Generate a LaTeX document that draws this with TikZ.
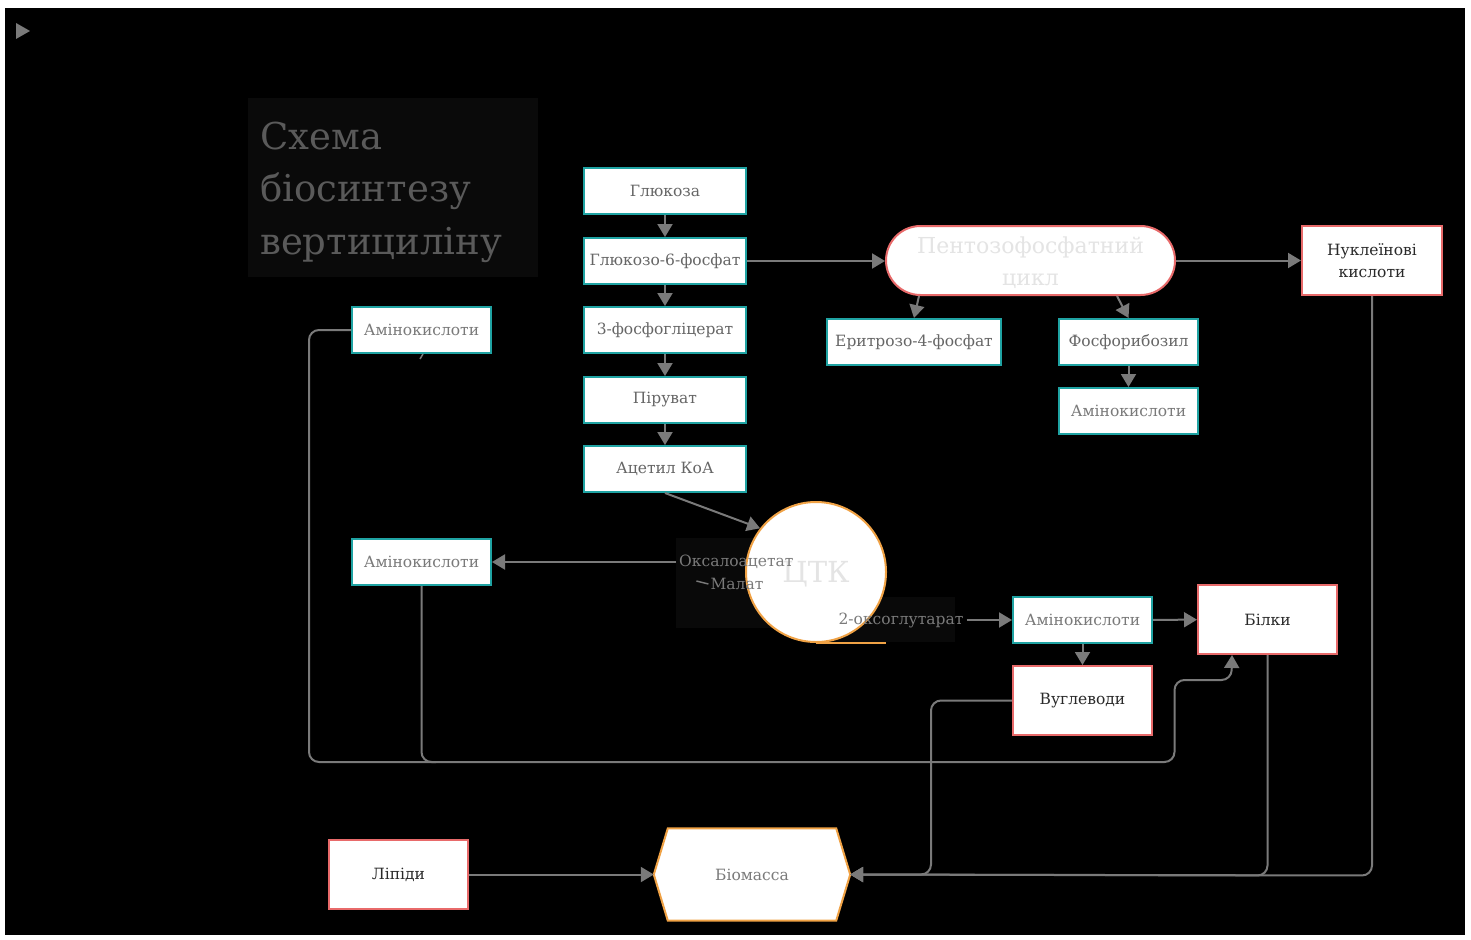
\documentclass[tikz,border=0pt]{standalone}
\usepackage{fontspec}
\setmainfont{DejaVu Serif}
\usetikzlibrary{arrows.meta,shapes.geometric}
\definecolor{tealb}{HTML}{1FA3A3}
\definecolor{redb}{HTML}{E86A6A}
\definecolor{orangeb}{HTML}{F0A245}
\definecolor{conngray}{HTML}{7A7A7A}
\definecolor{txtgray}{HTML}{666666}
\definecolor{txtdark}{HTML}{2A2A2A}
\definecolor{txtlight}{HTML}{E4E4E4}
\definecolor{titlegray}{HTML}{5A5A5A}
\definecolor{titlebg}{HTML}{0A0A0A}
\definecolor{labelbg}{HTML}{090909}
\tikzset{
  basebox/.style={draw, line width=2pt, fill=white, inner sep=0pt, font=\fontsize{15.5}{22}\selectfont, align=center},
  tealbox/.style={basebox, draw=tealb, text=txtgray, minimum width=#1, minimum height=46pt},
  redbox/.style={basebox, draw=redb, text=txtdark, minimum width=139pt, minimum height=69pt},
  conn/.style={draw=conngray, line width=2pt, -{Triangle[length=13pt,width=15pt]}},
  plainconn/.style={draw=conngray, line width=2pt},
  lbl/.style={font=\fontsize{15.5}{19}\selectfont, text=conngray, inner sep=3pt},
}
\begin{document}
\begin{tikzpicture}[x=1pt,y=-1pt]
\useasboundingbox (0,0) rectangle (1471,939);
\fill[white] (0,0) rectangle (1471,939);
\fill[black] (5,8) rectangle (1465,935);
% play marker
\fill[conngray] (16,23) -- (30,31) -- (16,39) -- cycle;
% title
\fill[titlebg] (248,98) rectangle (538,277);
\node[anchor=west, text=titlegray, font=\fontsize{37}{52.5}\selectfont, align=left, inner sep=0pt] (title) at (260,192) {Схема\\біосинтезу\\вертициліну};

% glycolysis chain
\node[tealbox=162pt] (g1) at (665,191) {Глюкоза};
\node[tealbox=162pt] (g2) at (665,261) {Глюкозо-6-фосфат};
\node[tealbox=162pt] (g3) at (665,330) {3-фосфогліцерат};
\node[tealbox=162pt] (g4) at (665,400) {Піруват};
\node[tealbox=162pt] (g5) at (665,469) {Ацетил КоА};

% pentose phosphate
\node[basebox, draw=redb, minimum width=289pt, minimum height=69pt, rounded corners=34.5pt] (ppp) at (1030.5,260.5) {};
\node[text=txtlight, font=\fontsize{22}{32}\selectfont, align=center, inner sep=0pt] (ppptext) at ([yshift=-2pt]ppp.center) {Пентозофосфатний\\цикл};
\node[redbox, minimum width=140pt] (nuk) at (1372,260.5) {Нуклеїнові\\кислоти};
\node[tealbox=174pt, text=txtgray] (ery) at (914,342) {Еритрозо-4-фосфат};
\node[tealbox=139pt] (fos) at (1128.5,342) {Фосфорибозил};
\node[tealbox=139pt, text=conngray] (am1) at (1128.5,411) {Амінокислоти};

% left amino acids
\node[tealbox=139pt, text=conngray] (amL1) at (421.5,330) {Амінокислоти};
\node[tealbox=139pt, text=conngray] (amL2) at (421.5,562) {Амінокислоти};

% TCA cycle
\fill[labelbg] (676,538) rectangle (790,628);
\fill[labelbg] (830,597) rectangle (955,642);
\node[circle, draw=orangeb, line width=2pt, fill=white, minimum size=140pt, inner sep=0pt] (ctk) at (816,572) {};
\node[text=txtlight, font=\fontsize{29}{34}\selectfont, inner sep=0pt] (ctktext) at ([yshift=-2pt]ctk.center) {ЦТК};
\draw[orangeb, line width=2pt] (ctk.south) -- ++(70,0);
\node[lbl, anchor=west] (oxa) at (676,562) {Оксалоацетат};
\node[lbl] (mal) at (737,584) {Малат};
\draw[plainconn, line width=1.5pt] ([xshift=-11pt,yshift=3pt]mal.west) -- ([xshift=1pt]mal.west);
\node[lbl] (ogl) at (901,620) {2-оксоглутарат};

% lower right
\node[tealbox=139pt, text=conngray] (amB) at (1082.5,620) {Амінокислоти};
\node[redbox, minimum height=69pt] (bil) at (1267.5,619.5) {Білки};
\node[redbox] (vug) at (1082.5,700.5) {Вуглеводи};
\node[redbox] (lip) at (398.5,874.5) {Ліпіди};

% biomass hexagon
\node[minimum width=196pt, minimum height=92pt, inner sep=0pt] (bio) at (752,874.5) {};
\filldraw[draw=orangeb, fill=white, line width=2pt] (bio.west) -- ([xshift=14pt]bio.north west) -- ([xshift=-14pt]bio.north east) -- (bio.east) -- ([xshift=-14pt]bio.south east) -- ([xshift=14pt]bio.south west) -- cycle;
\node[text=conngray, font=\fontsize{15.5}{19}\selectfont] (biotext) at (bio.center) {Біомасса};

% connectors
\draw[conn] (g1) -- (g2);
\draw[conn] (g2) -- (g3);
\draw[conn] (g3) -- (g4);
\draw[conn] (g4) -- (g5);
\draw[conn] (g5.south) -- (ctk.142);
\draw[conn] (g2) -- (g2 -| ppp.west);
\draw[conn] (ppp) -- (ppp -| nuk.west);
\draw[conn] ([xshift=-111.5pt]ppp.south) -- (ery.north);
\draw[conn] ([xshift=86.5pt]ppp.south) -- (fos.north);
\draw[conn] (fos) -- (am1);
\draw[conn] (oxa.west) -- (amL2.east);
\draw[conn] (ogl.east) -- (amB.west);
\draw[conn] (amB) -- (bil);
\draw[conn] (amB) -- (vug);
\draw[plainconn, line width=1.5pt] ([xshift=1.5pt]amL1.south) -- ++(-3,5);
\draw[plainconn, rounded corners=10pt] (amL1.west) -- ++(-42,0) -- ++(0,432) -- ++(127,0);
\draw[conn, rounded corners=10pt] (amL2.south) -- ++(0,176) -- ++(753,0) -- ++(0,-82) -- ++(57,0) -- ([xshift=-35.5pt]bil.south);
\draw[conn, rounded corners=10pt] (vug.west) -- ++(-81,0) -- ++(0,174) -- (bio.east);
\draw[conn, rounded corners=10pt] (bil.south) -- ++(0,220.5) -- (bio.east);
\draw[conn, rounded corners=10pt] (nuk.south) -- ++(0,579.5) -- (bio.east);
\draw[conn] (lip) -- (bio);
\end{tikzpicture}
\end{document}
